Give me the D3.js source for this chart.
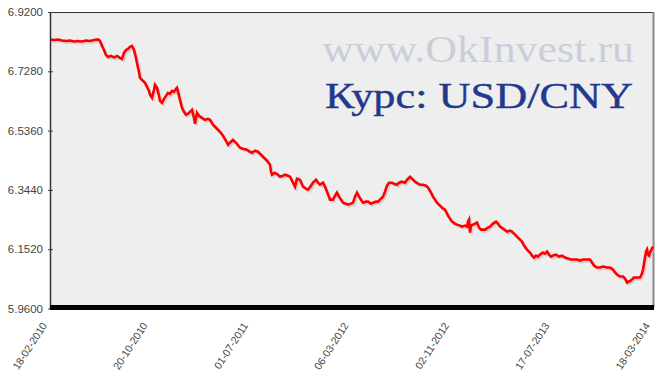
<!DOCTYPE html>
<html>
<head>
<meta charset="utf-8">
<script src="https://cdn.jsdelivr.net/npm/d3@7/dist/d3.min.js"></script>
<style>
  html, body { margin: 0; padding: 0; background: #ffffff; }
  svg { display: block; }
</style>
</head>
<body>
<svg id="chart" width="660" height="385"></svg>
<script>
// ---- data (sample index along the series, USD/CNY rate) ----
const sampleIdx = [0,8,16,24,32,40,48,56,64,72,80,88,96,100,104,108,112,116,122,128,134,140,144,148,152,156,160,164,168,172,174,178,180,184,190,194,198,200,204,208,210,214,218,220,224,228,232,236,240,244,248,252,254,258,262,264,268,272,276,280,284,288,290,294,298,304,310,316,320,326,332,340,346,352,356,362,366,372,380,386,394,400,404,410,416,422,428,434,440,442,444,450,456,460,466,470,476,480,486,490,494,500,506,512,516,522,526,532,536,540,546,550,554,560,566,570,574,578,582,586,592,596,602,606,610,614,618,622,626,632,636,642,646,652,656,662,666,670,674,678,684,688,694,698,704,710,714,720,724,730,736,740,746,752,756,762,766,770,774,780,784,790,796,800,804,810,814,820,824,830,834,836,838,840,842,846,850,854,858,862,866,870,876,880,886,892,896,900,906,914,920,924,930,934,940,944,948,954,960,964,968,972,976,980,986,990,994,998,1002,1006,1012,1018,1024,1030,1036,1042,1048,1054,1060,1066,1072,1080,1084,1088,1094,1100,1106,1114,1120,1126,1130,1134,1140,1146,1150,1154,1158,1162,1168,1174,1180,1184,1186,1188,1190,1192,1194,1196,1198,1200,1202,1206];
const usdCny = [6.8311,6.8295,6.8311,6.8279,6.8263,6.8279,6.8247,6.8263,6.8247,6.8279,6.8263,6.8295,6.8311,6.8263,6.8101,6.7972,6.7810,6.7746,6.7778,6.7730,6.7778,6.7713,6.7681,6.7875,6.7972,6.8004,6.8069,6.8101,6.7972,6.7713,6.7552,6.7261,6.7067,6.7002,6.6905,6.6776,6.6647,6.6518,6.6421,6.6679,6.6841,6.6744,6.6485,6.6324,6.6259,6.6388,6.6485,6.6582,6.6550,6.6647,6.6615,6.6712,6.6744,6.6485,6.6227,6.6097,6.5968,6.5871,6.5904,6.5968,6.6033,6.5774,6.5580,6.5936,6.5839,6.5774,6.5710,6.5742,6.5710,6.5548,6.5451,6.5322,6.5193,6.5031,6.4902,6.4999,6.5063,6.4966,6.4805,6.4772,6.4740,6.4675,6.4643,6.4708,6.4675,6.4578,6.4481,6.4385,6.4255,6.4029,6.3932,6.3997,6.3932,6.3867,6.3900,6.3932,6.3900,6.3867,6.3673,6.3544,6.3803,6.3770,6.3544,6.3480,6.3447,6.3577,6.3673,6.3770,6.3673,6.3609,6.3673,6.3544,6.3383,6.3124,6.3124,6.3253,6.3350,6.3221,6.3124,6.3027,6.2995,6.2962,6.2995,6.3027,6.3221,6.3350,6.3221,6.3124,6.3027,6.3059,6.3059,6.2995,6.3027,6.3059,6.3059,6.3156,6.3221,6.3383,6.3577,6.3673,6.3673,6.3641,6.3609,6.3673,6.3706,6.3673,6.3770,6.3867,6.3803,6.3706,6.3641,6.3609,6.3609,6.3577,6.3512,6.3350,6.3221,6.3124,6.3027,6.2930,6.2865,6.2801,6.2607,6.2510,6.2413,6.2348,6.2316,6.2284,6.2251,6.2284,6.2251,6.2413,6.2478,6.2057,6.2284,6.2316,6.2348,6.2381,6.2219,6.2154,6.2154,6.2154,6.2219,6.2251,6.2348,6.2413,6.2348,6.2251,6.2187,6.2090,6.2122,6.2090,6.1993,6.1928,6.1831,6.1767,6.1637,6.1508,6.1411,6.1314,6.1249,6.1314,6.1282,6.1346,6.1411,6.1379,6.1443,6.1346,6.1282,6.1314,6.1346,6.1282,6.1314,6.1249,6.1217,6.1185,6.1185,6.1185,6.1152,6.1185,6.1185,6.1185,6.1088,6.0991,6.0926,6.0926,6.0959,6.0926,6.0926,6.0862,6.0765,6.0700,6.0635,6.0635,6.0571,6.0441,6.0474,6.0506,6.0603,6.0603,6.0603,6.0732,6.0862,6.1055,6.1249,6.1443,6.1508,6.1346,6.1314,6.1411,6.1476,6.1605];
const xTickIdx = [0,201,402,603,804,1005,1206];
const xTickLabels = ["18-02-2010","20-10-2010","01-07-2011","06-03-2012","02-11-2012","17-07-2013","18-03-2014"];
const yTickValues = [5.96,6.152,6.344,6.536,6.728,6.92];
const watermark = "www.OkInvest.ru";
const title = "Курс: USD/CNY";

// ---- layout ----
const L = 50, R = 653, T = 12, B = 308.5;
const svg = d3.select("#chart");

const x = d3.scaleLinear().domain([0, 1206]).range([L, R]);
const y = d3.scaleLinear().domain([5.96, 6.92]).range([B, T]);

// plot background
svg.append("rect").attr("x", L).attr("y", T).attr("width", R - L).attr("height", B - T)
  .attr("fill", "#eeeeee");

// watermark & title
svg.append("text").attr("x", 322).attr("y", 61.5)
  .attr("font-family", "'Liberation Serif','DejaVu Serif',serif").attr("font-size", 37)
  .attr("fill", "#c9cedb").attr("textLength", 312).attr("lengthAdjust", "spacingAndGlyphs")
  .text(watermark);
svg.append("text").attr("x", 325).attr("y", 107.5)
  .attr("font-family", "'Liberation Serif','DejaVu Serif',serif").attr("font-size", 36)
  .attr("fill", "#23398c").attr("stroke", "#23398c").attr("stroke-width", 0.4)
  .attr("textLength", 308).attr("lengthAdjust", "spacingAndGlyphs")
  .text(title);

// frame
svg.append("line").attr("x1", L).attr("x2", R).attr("y1", T + 0.5).attr("y2", T + 0.5)
  .attr("stroke", "#333").attr("stroke-width", 1);
svg.append("line").attr("x1", R + 0.5).attr("x2", R + 0.5).attr("y1", T).attr("y2", B)
  .attr("stroke", "#8a8a8a").attr("stroke-width", 2);

// line series
const pts = sampleIdx.map((d, i) => [d, usdCny[i]]);
const line = d3.line().x(d => x(d[0])).y(d => y(d[1]));
svg.append("path").datum(pts).attr("d", line)
  .attr("fill", "none").attr("stroke", "#b9b9b9").attr("stroke-opacity", 0.55)
  .attr("stroke-width", 2.6).attr("stroke-linejoin", "miter")
  .attr("transform", "translate(1.5,1.8)");
svg.append("path").datum(pts).attr("d", line)
  .attr("fill", "none").attr("stroke", "#ff0000")
  .attr("stroke-width", 2.6).attr("stroke-linejoin", "miter");

// y axis
const yAxis = d3.axisLeft(y).tickValues(yTickValues).tickFormat(d3.format(".4f"))
  .tickSizeInner(3).tickSizeOuter(0).tickPadding(4);
const gy = svg.append("g").attr("transform", `translate(${L},0)`).call(yAxis);
gy.select(".domain").remove();
gy.selectAll(".tick line").attr("stroke", "#444").attr("x2", 3).attr("x1", -2);
gy.selectAll(".tick text").attr("font-family", "'Liberation Sans',Arial,sans-serif")
  .attr("font-size", 11.5).attr("fill", "#444");
svg.append("line").attr("x1", L + 0.5).attr("x2", L + 0.5).attr("y1", T).attr("y2", B)
  .attr("stroke", "#333").attr("stroke-width", 1.5);

// bottom bar
svg.append("line").attr("x1", L).attr("x2", R + 1).attr("y1", B - 1).attr("y2", B - 1)
  .attr("stroke", "#000").attr("stroke-width", 5);

// x axis
const xAxis = d3.axisBottom(x).tickValues(xTickIdx)
  .tickFormat((d, i) => xTickLabels[i]).tickSize(0);
const gx = svg.append("g").attr("transform", `translate(0,${B + 2})`).call(xAxis);
gx.select(".domain").remove();
gx.selectAll(".tick text")
  .attr("font-family", "'Liberation Sans',Arial,sans-serif").attr("font-size", 10.5)
  .attr("fill", "#444").attr("text-anchor", "end")
  .attr("x", 0).attr("y", 0).attr("dy", 0)
  .attr("transform", "translate(-3,15) rotate(-57)");
</script>
</body>
</html>
